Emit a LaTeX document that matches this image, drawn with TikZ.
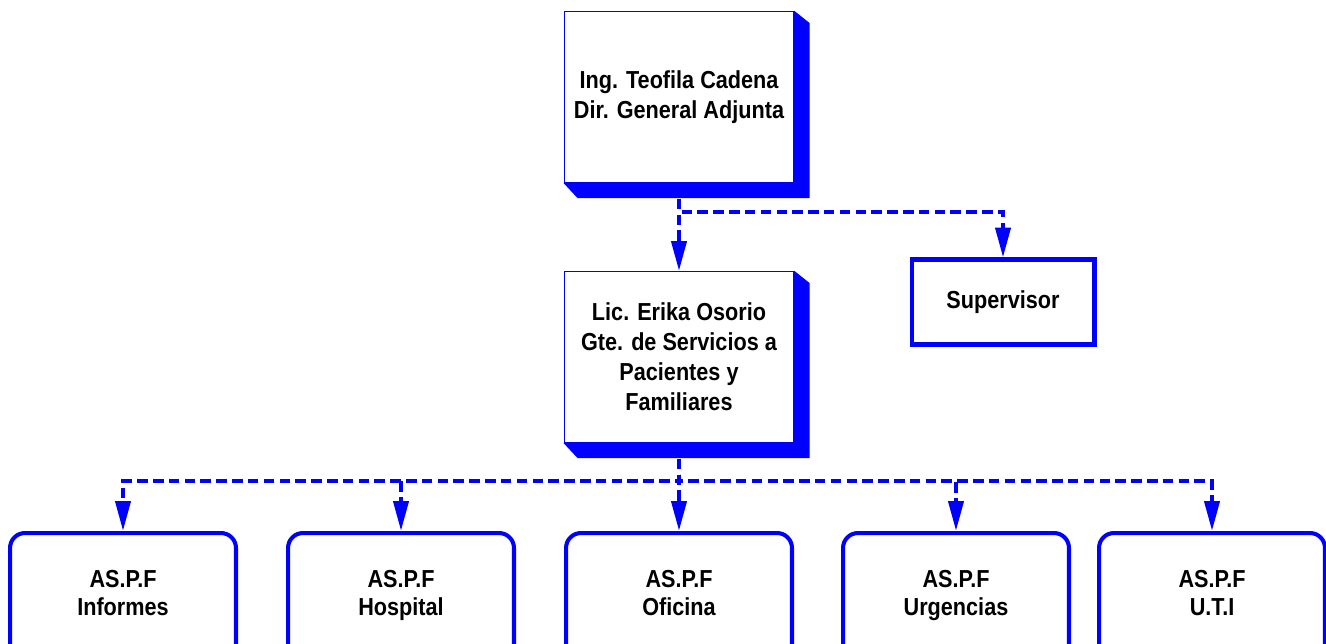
\documentclass[tikz,border=0pt]{standalone}
\usepackage{fontspec}
\setmainfont{Liberation Sans}[FakeStretch=0.88]
\usepackage{xcolor}
\usepackage{tikz}
\usetikzlibrary{arrows.meta}
\usetikzlibrary{backgrounds}
\definecolor{azul}{rgb}{0,0,1}
\newcommand{\asp}[1]{AS.P.F\\#1\strut}

\begin{document}
\begin{tikzpicture}[x=0.02cm,y=-0.02cm,
  jefe/.style={rectangle,draw=azul,line width=0.6pt,fill=white,minimum width=4.6cm,minimum height=3.42cm,align=center},
  aux/.style={rectangle,draw=azul,line width=2.3pt,fill=white,minimum width=3.66cm,minimum height=1.7cm},
  area/.style={rectangle,rounded corners=0.3cm,draw=azul,line width=2.3pt,fill=white,minimum width=4.52cm,minimum height=2.56cm,align=center,font=\fontsize{14pt}{15.5pt}\selectfont\bfseries},
  liga/.style={draw=azul,line width=2.3pt,dash pattern=on 6pt off 3pt,-{Triangle[length=17pt,width=8.5pt]}},
  font=\fontsize{14pt}{17pt}\selectfont\bfseries]
  \useasboundingbox (0,0) rectangle (1326,643);

  \node[jefe] (dir) at (679,97) {Ing. Teofila Cadena\\Dir. General Adjunta};
  \node[jefe] (gte) at (679,357) {Lic. Erika Osorio\\Gte. de Servicios a\\Pacientes y\\Familiares};
  \node[aux] (sup) at (1003,302) {Supervisor};
  \node[area] (inf) at (123,597) {\asp{Informes}};
  \node[area] (hos) at (401,597) {\asp{Hospital}};
  \node[area] (ofi) at (679,597) {\asp{Oficina}};
  \node[area] (urg) at (956,597) {\asp{Urgencias}};
  \node[area] (uti) at (1212,597) {\asp{U.T.I}};

  \begin{scope}[on background layer]
    \foreach \b in {dir,gte}
      \fill[azul] (\b.north east) -- ([shift={(15,12)}]\b.north east) -- ([shift={(15,15)}]\b.south east)
        -- ([shift={(14,15)}]\b.south west) -- (\b.south west) -- cycle;
  \end{scope}

  \path (dir.south) ++(0,29) coordinate (j1);
  \path (gte.south) ++(0,38) coordinate (j2);
  \foreach \a in {gte,sup}
    \draw[liga] (dir.south) -- (j1) -| (\a.north);
  \foreach \a in {inf,hos,ofi,urg,uti}
    \draw[liga] (gte.south) -- (j2) -| (\a.north);
\end{tikzpicture}
\end{document}
